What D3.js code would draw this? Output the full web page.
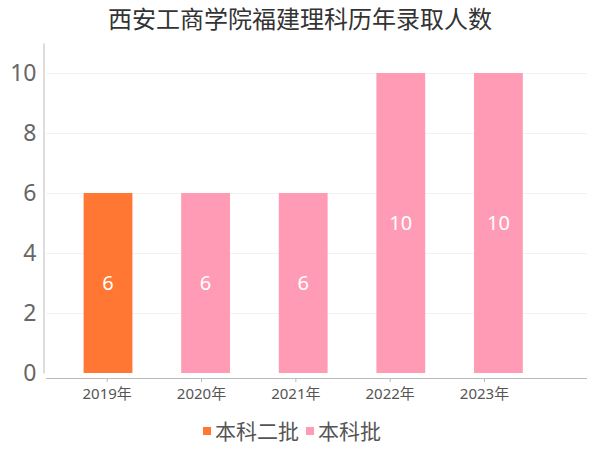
<!DOCTYPE html>
<html><head><meta charset="utf-8">
<script src="https://cdn.jsdelivr.net/npm/d3@7/dist/d3.min.js"></script>
<style>body{margin:0;background:#fff}svg{display:block}</style>
</head><body>
<svg id="c" width="600" height="450"></svg>
<script>
const title = "西安工商学院福建理科历年录取人数";
const categories = ["2019年","2020年","2021年","2022年","2023年"];
const values = [6,6,6,10,10];
const batches = ["本科二批","本科批","本科批","本科批","本科批"];
const legendNames = ["本科二批","本科批"];
const legendColors = ["#FF7733","#FF9BB4"];
const yTicks = [0,2,4,6,8,10];

const svg = d3.select("#c");
const font = "'Noto Sans','Noto Sans CJK SC',sans-serif";
const color = d3.scaleOrdinal().domain(legendNames).range(legendColors);

const y = d3.scaleLinear().domain([0,11]).range([373,43]);
const xBar = d3.scaleBand().domain(categories).range([59.2,547.2]).paddingInner(0.5).paddingOuter(0.25);
const xTick = d3.scalePoint().domain(categories).range([106.7,484]);

svg.append("text").attr("x",300).attr("y",28).attr("text-anchor","middle")
  .attr("font-family",font).attr("font-size",24).attr("fill","#333").text(title);

// grid
svg.append("g").selectAll("line").data(yTicks.filter(d=>d>0)).join("line")
  .attr("x1",46).attr("x2",587).attr("y1",d=>y(d)+0.5).attr("y2",d=>y(d)+0.5)
  .attr("stroke","#f2f2f2").attr("stroke-width",1);

// y axis
const yAxis = svg.append("g").attr("transform","translate(43.5,0)")
  .call(d3.axisLeft(y).tickValues(yTicks).tickSize(0).tickPadding(7));
yAxis.select(".domain").attr("stroke","#bbb");
yAxis.selectAll("text").attr("font-family",font).attr("font-size",23).attr("fill","#666");

// bars
svg.append("g").selectAll("rect").data(categories).join("rect")
  .attr("x",d=>xBar(d)).attr("width",xBar.bandwidth())
  .attr("y",(d,i)=>y(values[i])).attr("height",(d,i)=>y(0)-y(values[i]))
  .attr("fill",(d,i)=>color(batches[i]));

// value labels
svg.append("g").selectAll("text").data(categories).join("text")
  .attr("x",d=>xBar(d)+xBar.bandwidth()/2)
  .attr("y",(d,i)=>(y(values[i])+y(0))/2)
  .attr("dy","0.35em").attr("text-anchor","middle")
  .attr("font-family",font).attr("font-size",20).attr("fill","#fff")
  .text((d,i)=>values[i]);

// x axis
const xAxis = svg.append("g").attr("transform","translate(0,378)")
  .call(d3.axisBottom(xTick).tickSize(4).tickPadding(6).tickSizeOuter(0));
xAxis.select(".domain").attr("stroke","#bbb").attr("d","M46,0.5H587");
xAxis.selectAll(".tick line").attr("stroke","#bbb");
xAxis.selectAll("text").attr("font-family",font).attr("font-size",15).attr("fill","#555");

// legend
const lg = svg.append("g");
const lx = [203,306];
legendNames.forEach((n,i)=>{
  lg.append("rect").attr("x",lx[i]).attr("y",427).attr("width",8).attr("height",8).attr("fill",legendColors[i]);
  lg.append("text").attr("x",lx[i]+12).attr("y",439).attr("font-family",font)
    .attr("font-size",21).attr("fill","#555").text(n);
});
</script>
</body></html>
